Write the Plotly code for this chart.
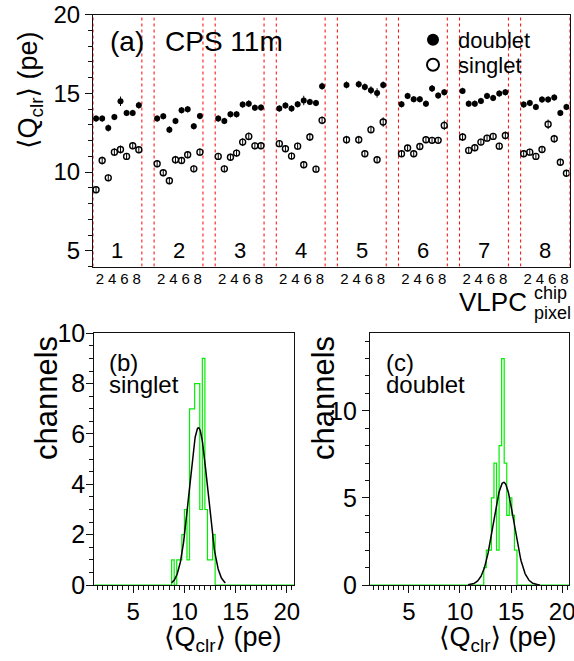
import math
import plotly.graph_objects as go

# ---------------- data ----------------
chips = [1, 2, 3, 4, 5, 6, 7, 8]
pixels = [1, 2, 3, 4, 5, 6, 7, 8]

# <Q_clr> (pe) per VLPC chip, pixels 1..8 (None = dead channel)
doublet_c1 = [13.39, 13.39, 12.79, 13.49, 14.49, 13.75, 13.75, 14.24]
doublet_c2 = [13.39, 13.54, 12.69, 13.24, 13.92, 13.98, 12.90, 13.55]
doublet_c3 = [13.39, 13.24, 13.66, 13.66, 14.28, 14.34, 14.08, 14.09]
doublet_c4 = [14.03, 14.22, 14.03, 14.30, 14.54, 14.45, 14.38, 15.45]
doublet_c5 = [None, 15.53, None, 15.57, 15.40, 15.19, 15.02, 15.53]
doublet_c6 = [14.30, 14.83, 14.62, 14.62, 14.34, 15.30, 14.85, 15.06]
doublet_c7 = [15.15, 14.34, 14.34, 14.51, 14.83, 14.70, 14.98, 15.06]
doublet_c8 = [14.28, 14.38, 14.13, 14.60, 14.60, 14.73, 13.75, 14.13]

singlet_c1 = [8.87, 10.73, 9.63, 11.26, 11.43, 10.99, 11.67, 11.41]
singlet_c2 = [10.52, 9.95, 9.44, 10.78, 10.73, 11.10, 10.20, 11.26]
singlet_c3 = [10.99, 10.20, 10.94, 11.20, 11.90, 12.26, 11.66, 11.67]
singlet_c4 = [11.80, 11.48, 11.01, 11.64, 10.46, 12.22, 10.18, 13.28]
singlet_c5 = [None, 12.05, None, 12.05, 11.16, 12.69, 10.78, 13.17]
singlet_c6 = [11.16, 11.52, 11.16, 11.62, 12.05, 12.01, 12.01, 12.96]
singlet_c7 = [12.22, 11.37, 11.54, 11.90, 12.15, 12.26, 11.64, 12.32]
singlet_c8 = [11.16, 11.26, 10.99, 11.43, 13.03, 12.11, 10.62, 9.92]

doublet_err = [0.2, 0.2, 0.22, 0.2, 0.3, 0.2, 0.2, 0.22,
               0.2, 0.2, 0.22, 0.2, 0.2, 0.2, 0.2, 0.2,
               0.2, 0.2, 0.2, 0.2, 0.2, 0.22, 0.2, 0.2,
               0.2, 0.2, 0.2, 0.2, 0.3, 0.2, 0.2, 0.22,
               0.2, 0.22, 0.2, 0.22, 0.22, 0.25, 0.3, 0.22,
               0.2, 0.2, 0.2, 0.2, 0.2, 0.22, 0.2, 0.2,
               0.2, 0.2, 0.2, 0.2, 0.2, 0.2, 0.2, 0.2,
               0.2, 0.2, 0.2, 0.2, 0.2, 0.2, 0.2, 0.2]
singlet_err = [0.22, 0.25, 0.22, 0.25, 0.25, 0.22, 0.22, 0.22,
               0.22, 0.22, 0.22, 0.25, 0.22, 0.22, 0.22, 0.25,
               0.22, 0.22, 0.22, 0.22, 0.25, 0.25, 0.22, 0.22,
               0.22, 0.22, 0.22, 0.22, 0.22, 0.25, 0.22, 0.25,
               0.22, 0.25, 0.22, 0.25, 0.22, 0.25, 0.22, 0.3,
               0.22, 0.22, 0.22, 0.22, 0.22, 0.22, 0.22, 0.3,
               0.25, 0.22, 0.22, 0.22, 0.22, 0.22, 0.22, 0.25,
               0.22, 0.22, 0.22, 0.22, 0.3, 0.25, 0.22, 0.22]

pixel_tick_labels = ["2", "4", "6", "8"]
chip_labels = ["1", "2", "3", "4", "5", "6", "7", "8"]

# histograms of <Q_clr> (bin width 0.25 pe)
singlet_hist_edges = [8.75, 9.0, 9.25, 9.5, 9.75, 10.0, 10.25, 10.5, 10.75, 11.0,
                      11.25, 11.5, 11.75, 12.0, 12.25, 12.5, 12.75, 13.0]
singlet_hist_counts = [1, 0, 1, 1, 2, 3, 1, 7, 7, 8, 8, 3, 9, 3, 1, 1, 2]
doublet_hist_edges = [12.33, 12.58, 12.83, 13.08, 13.33, 13.58, 13.83, 14.08,
                      14.33, 14.58, 14.83, 15.08, 15.33, 15.58]
doublet_hist_counts = [1, 2, 2, 5, 7, 2, 8, 13, 7, 4, 5, 4, 2]

# Gaussian fit parameters (amplitude, mean, sigma)
singlet_fit = (6.25, 11.37, 0.90)
doublet_fit = (5.90, 14.28, 1.00)

# ---------------- helpers ----------------
W, H = 574, 661
FONT = "Liberation Sans, Arial, DejaVu Sans, sans-serif"


def px_x(p):
    return p / W


def px_y(p):
    return (H - p) / H


def position(chip, pixel):
    return 10 * (chip - 1) + pixel


doublet_all = (doublet_c1 + doublet_c2 + doublet_c3 + doublet_c4 +
               doublet_c5 + doublet_c6 + doublet_c7 + doublet_c8)
singlet_all = (singlet_c1 + singlet_c2 + singlet_c3 + singlet_c4 +
               singlet_c5 + singlet_c6 + singlet_c7 + singlet_c8)
xpos = [position(c, p) for c in chips for p in pixels]

fig = go.Figure()

# chip boundary dotted lines
for c in chips:
    for xl in (position(c, 0) + 0.5, position(c, 8) + 0.5):
        fig.add_shape(type="line", xref="x", yref="y", x0=xl, x1=xl, y0=4, y1=20,
                      line=dict(color="red", width=1, dash="dot"), layer="below")

fig.add_trace(go.Scatter(
    x=xpos, y=doublet_all, mode="markers", name="doublet", legend="legend",
    marker=dict(symbol="circle", size=6, color="black"),
    error_y=dict(type="data", array=doublet_err, color="black", thickness=1, width=0),
    xaxis="x", yaxis="y"))
fig.add_trace(go.Scatter(
    x=xpos, y=singlet_all, mode="markers", name="singlet", legend="legend2",
    marker=dict(symbol="circle-open", size=6, color="black", line=dict(width=1.4)),
    error_y=dict(type="data", array=singlet_err, color="black", thickness=1, width=0),
    xaxis="x", yaxis="y"))


def hist_trace(edges, counts, xr, axx, axy):
    xs = [xr[0]] + edges + [xr[1]]
    ys = [0] + counts + [0, 0]
    return go.Scatter(x=xs, y=ys, mode="lines", line=dict(color="#00ee00", width=1.2, shape="hv"),
                      showlegend=False, xaxis=axx, yaxis=axy, hoverinfo="skip")


def gauss_trace(par, lo, hi, axx, axy):
    a, m, s = par
    n = 200
    xs = [lo + (hi - lo) * i / n for i in range(n + 1)]
    ys = [a * math.exp(-0.5 * ((x - m) / s) ** 2) for x in xs]
    return go.Scatter(x=xs, y=ys, mode="lines", line=dict(color="black", width=1.5),
                      showlegend=False, xaxis=axx, yaxis=axy, hoverinfo="skip")


HX = [1.2, 20.7]
fig.add_trace(hist_trace(singlet_hist_edges, singlet_hist_counts, HX, "x2", "y2"))
fig.add_trace(gauss_trace(singlet_fit, 8.75, 14.0, "x2", "y2"))
fig.add_trace(hist_trace(doublet_hist_edges, doublet_hist_counts, HX, "x3", "y3"))
fig.add_trace(gauss_trace(doublet_fit, 10.8, 17.8, "x3", "y3"))

pix_tickvals = [position(c, int(t)) - 0.35 for c in chips for t in pixel_tick_labels]
pix_ticktext = [t for c in chips for t in pixel_tick_labels]
chip_centers = [position(c, 4.5) for c in chips]

frame = dict(showline=True, mirror=True, linecolor="#111", linewidth=1.2,
             showgrid=False, zeroline=False, automargin=False)

leg_common = dict(xanchor="left", yanchor="middle", font=dict(size=22),
                  bgcolor="rgba(0,0,0,0)", borderwidth=0, itemsizing="constant",
                  itemwidth=40)

fig.update_layout(
    template="none",
    width=W, height=H, margin=dict(l=0, r=0, t=0, b=0, pad=0, autoexpand=False),
    paper_bgcolor="white", plot_bgcolor="white",
    font=dict(family=FONT, color="black"),
    showlegend=True,
    legend=dict(x=px_x(408), y=px_y(40), **leg_common),
    legend2=dict(x=px_x(408), y=px_y(65), **leg_common),
    xaxis=dict(domain=[px_x(93), px_x(569.5)], range=[0.5, 78.5], anchor="y",
               tickmode="array", tickvals=pix_tickvals, ticktext=pix_ticktext,
               ticks="", tickfont=dict(size=15), ticklabeloverflow="allow",
               ticklabelstandoff=-2, **frame),
    xaxis4=dict(overlaying="x", anchor="y", range=[0.5, 78.5], tickmode="array",
                tickvals=chip_centers, ticks="inside", ticklen=5, tickcolor="#111",
                showticklabels=False, showline=False, showgrid=False, zeroline=False,
                automargin=False),
    yaxis=dict(domain=[px_y(266.5), px_y(14.5)], range=[4, 20], anchor="x",
               tickmode="array", tickvals=[5, 10, 15, 20], ticks="outside", ticklen=7,
               tickcolor="#111", tickfont=dict(size=24), ticklabeloverflow="allow",
               minor=dict(dtick=1, tick0=0, ticks="outside", ticklen=4, tickcolor="#111"),
               **frame),
    xaxis2=dict(domain=[px_x(94.3), px_x(294)], range=HX, anchor="y2",
                tickmode="array", tickvals=[5, 10, 15, 20], ticks="outside", ticklen=7,
                tickcolor="#111", tickfont=dict(size=24), ticklabeloverflow="allow",
                ticklabelstandoff=-2,
                minor=dict(dtick=0.5, tick0=0, ticks="outside", ticklen=4, tickcolor="#111"),
                **frame),
    yaxis2=dict(domain=[px_y(585), px_y(333.3)], range=[0, 10], anchor="x2",
                tickmode="array", tickvals=[0, 2, 4, 6, 8, 10], ticks="outside", ticklen=7,
                tickcolor="#111", tickfont=dict(size=25), ticklabelstandoff=-4,
                ticklabeloverflow="allow",
                minor=dict(dtick=0.5, tick0=0, ticks="outside", ticklen=4, tickcolor="#111"),
                **frame),
    xaxis3=dict(domain=[px_x(370), px_x(569.3)], range=HX, anchor="y3",
                tickmode="array", tickvals=[5, 10, 15, 20], ticks="outside", ticklen=7,
                tickcolor="#111", tickfont=dict(size=24), ticklabeloverflow="allow",
                ticklabelstandoff=-2,
                minor=dict(dtick=0.5, tick0=0, ticks="outside", ticklen=4, tickcolor="#111"),
                **frame),
    yaxis3=dict(domain=[px_y(585), px_y(333.3)], range=[0, 14.45], anchor="x3",
                tickmode="array", tickvals=[0, 5, 10], ticks="outside", ticklen=7,
                tickcolor="#111", tickfont=dict(size=25), ticklabeloverflow="allow",
                minor=dict(dtick=1, tick0=0, ticks="outside", ticklen=4, tickcolor="#111"),
                **frame),
)

ann = []
# chip numbers inside panel (a)
for c, lab in zip(chips, chip_labels):
    ann.append(dict(x=position(c, 4.5), y=5.0, xref="x", yref="y", text=lab,
                    showarrow=False, font=dict(size=22), xanchor="center", yanchor="middle"))
ann += [
    dict(x=px_x(108), y=px_y(41), xref="paper", yref="paper", text="(a)",
         showarrow=False, font=dict(size=28), xanchor="left", yanchor="middle"),
    dict(x=px_x(163), y=px_y(41), xref="paper", yref="paper", text="CPS 11m",
         showarrow=False, font=dict(size=28), xanchor="left", yanchor="middle"),
    dict(x=px_x(30), y=px_y(90), xref="paper", yref="paper",
         text="⟨Q<sub>clr</sub>⟩ (pe)", textangle=-90,
         showarrow=False, font=dict(size=27), xanchor="center", yanchor="middle"),
    dict(x=px_x(529), y=px_y(302), xref="paper", yref="paper", text="VLPC",
         showarrow=False, font=dict(size=26), xanchor="right", yanchor="middle"),
    dict(x=px_x(532), y=px_y(293), xref="paper", yref="paper", text="chip",
         showarrow=False, font=dict(size=18), xanchor="left", yanchor="middle"),
    dict(x=px_x(532), y=px_y(313), xref="paper", yref="paper", text="pixel",
         showarrow=False, font=dict(size=18), xanchor="left", yanchor="middle"),
    # panel (b)
    dict(x=px_x(107), y=px_y(362), xref="paper", yref="paper", text="(b)",
         showarrow=False, font=dict(size=24), xanchor="left", yanchor="middle"),
    dict(x=px_x(107), y=px_y(385), xref="paper", yref="paper", text="singlet",
         showarrow=False, font=dict(size=24), xanchor="left", yanchor="middle"),
    dict(x=px_x(46), y=px_y(398), xref="paper", yref="paper", text="channels",
         textangle=-90, showarrow=False, font=dict(size=31), xanchor="center", yanchor="middle"),
    dict(x=px_x(223), y=px_y(639), xref="paper", yref="paper",
         text="⟨Q<sub>clr</sub>⟩ (pe)", showarrow=False, font=dict(size=27),
         xanchor="center", yanchor="middle"),
    # panel (c)
    dict(x=px_x(384), y=px_y(362), xref="paper", yref="paper", text="(c)",
         showarrow=False, font=dict(size=24), xanchor="left", yanchor="middle"),
    dict(x=px_x(384), y=px_y(385), xref="paper", yref="paper", text="doublet",
         showarrow=False, font=dict(size=24), xanchor="left", yanchor="middle"),
    dict(x=px_x(323), y=px_y(398), xref="paper", yref="paper", text="channels",
         textangle=-90, showarrow=False, font=dict(size=31), xanchor="center", yanchor="middle"),
    dict(x=px_x(498), y=px_y(639), xref="paper", yref="paper",
         text="⟨Q<sub>clr</sub>⟩ (pe)", showarrow=False, font=dict(size=27),
         xanchor="center", yanchor="middle"),
]
fig.update_layout(annotations=ann)

fig.write_html("out.html",
               config={"displayModeBar": False},
               post_script="document.body.style.margin='0';document.body.style.overflow='hidden';")
